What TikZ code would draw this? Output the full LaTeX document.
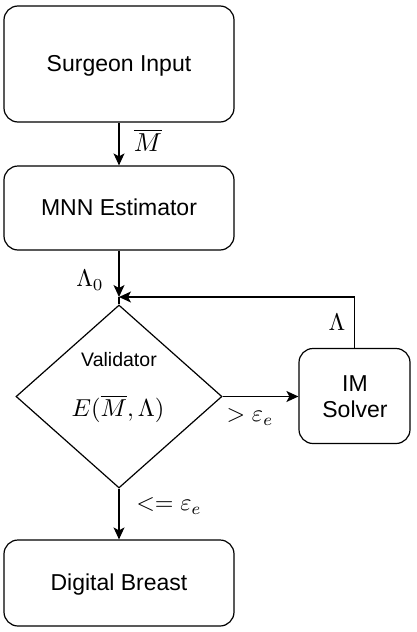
\documentclass[tikz,border=0pt]{standalone}
\usepackage{graphicx}
\usepackage{fontspec}
\setmainfont{Liberation Sans}
\usetikzlibrary{shapes.geometric,arrows.meta}
\newcommand{\myscaledmath}[2]{\scalebox{#1}{\fontsize{10}{12}\selectfont$#2$}}
\tikzset{
  box/.style={draw, line width=1.2pt, rounded corners=14pt, inner sep=0pt},
  txt/.style={font=\fontsize{23}{27}\selectfont, align=center},
  arr/.style={line width=1.2pt, -{Stealth[length=12pt,width=11pt,inset=3pt]}},
  ln/.style={line width=1.2pt},
  mlab/.style={inner sep=0pt}
}
\begin{document}
\begin{tikzpicture}[x=1pt,y=-1pt]
\useasboundingbox (0,0) rectangle (417,632);
\node[box, minimum width=230pt, minimum height=116pt] (surg) at (119,64) {};
\node[txt] (surgt) at (119,66) {Surgeon Input};
\node[box, minimum width=230pt, minimum height=84pt] (mnn) at (119,208) {};
\node[txt] (mnnt) at (119,207) {MNN Estimator};
\node[draw, line width=1.2pt, shape=diamond, aspect=1.1257, minimum width=206pt, minimum height=183pt, inner sep=0pt] (val) at (119,396.5) {};
\node[font=\fontsize{19.5}{23}\selectfont, inner sep=0pt] (valt) at (119,360) {Validator};
\node[mlab] (vale) at (118,409) {\myscaledmath{2.45}{E(\overline{M},\Lambda)}};
\node[box, minimum width=111pt, minimum height=95pt] (im) at (354.5,396) {};
\node[txt, font=\fontsize{23}{26}\selectfont] (imt) at (355,397) {IM\\Solver};
\node[box, minimum width=230pt, minimum height=86pt] (dig) at (119,583) {};
\node[txt] (digt) at (119,585) {Digital Breast};
\coordinate (j) at (119,297);
\draw[arr] (surg) -- (mnn);
\draw[arr] (mnn) -- (j);
\draw[ln] (j) -- (val.north);
\draw[arr] (im.north) |- (j);
\draw[arr] (val.east) -- (val.east -| im.west);
\draw[arr] (val.south) -- (dig.north);
\node[mlab] (lm) at (148,140) {\myscaledmath{2.6}{\overline{M}}};
\node[mlab] (l0) at (90,280) {\myscaledmath{2.4}{\Lambda_0}};
\node[mlab] (ll) at (337,322) {\myscaledmath{2.4}{\Lambda}};
\node[mlab] (lg) at (250,417) {\myscaledmath{2.4}{>\varepsilon_e}};
\node[mlab] (lle) at (169,506) {\myscaledmath{2.4}{<=\varepsilon_e}};
\end{tikzpicture}
\end{document}
